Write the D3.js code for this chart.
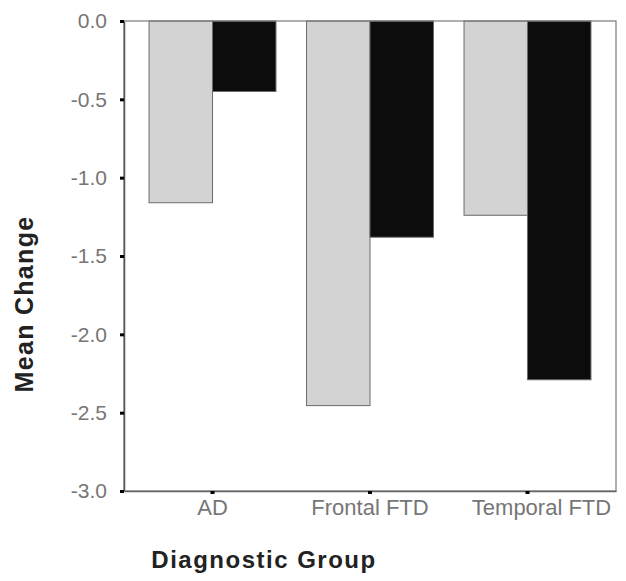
<!DOCTYPE html>
<html>
<head>
<meta charset="utf-8">
<script src="https://cdn.jsdelivr.net/npm/d3@7"></script>
<style>
  body { margin: 0; background: #fff; }
  svg { display: block; font-family: "Liberation Sans", Arial, sans-serif; }
</style>
</head>
<body>
<div id="chart"></div>
<script>
// values
const groups = ["AD", "Frontal FTD", "Temporal FTD"];
const series = ["light", "dark"];
const lightValues = [-1.16, -2.455, -1.24];
const darkValues = [-0.45, -1.38, -2.29];
const yTicks = [0, -0.5, -1, -1.5, -2, -2.5, -3];

const width = 626,
  height = 581,
  margin = ({ top: 21, right: 10, bottom: 90, left: 124 });

const plotRight = 616;
const plotBottom = 491;

const svg = d3.select("#chart")
  .append("svg")
  .attr("width", width)
  .attr("height", height);

const y = d3.scaleLinear()
  .domain([0, -3])
  .range([margin.top, plotBottom]);

const x = d3.scaleBand()
  .domain(groups)
  .range([margin.left, plotRight])
  .paddingInner(0.194)
  .paddingOuter(0.159);

const xs = d3.scaleBand()
  .domain(series)
  .range([0, x.bandwidth()]);

const colors = { light: "#d3d3d3", dark: "#0c0c0c" };

const rows = groups.map((g, i) => ({ group: g, light: lightValues[i], dark: darkValues[i] }));

// bars
const bars = svg.append("g");
rows.forEach(r => {
  series.forEach(s => {
    bars.append("rect")
      .attr("x", x(r.group) + xs(s))
      .attr("y", y(0))
      .attr("width", xs.bandwidth())
      .attr("height", y(r[s]) - y(0))
      .attr("fill", colors[s])
      .attr("stroke", "#6a6a6a")
      .attr("stroke-width", 1);
  });
});

// frame
svg.append("rect")
  .attr("x", margin.left)
  .attr("y", margin.top)
  .attr("width", plotRight - margin.left)
  .attr("height", plotBottom - margin.top)
  .attr("fill", "none")
  .attr("stroke", "#7a7a7a")
  .attr("stroke-width", 1.2);

// y axis
const yAxis = svg.append("g")
  .attr("transform", `translate(${margin.left},0)`)
  .call(d3.axisLeft(y).tickValues(yTicks).tickSize(0).tickPadding(17));

yAxis.select(".domain").attr("stroke", "#555").attr("stroke-width", 1.5);
yAxis.selectAll("text")
  .attr("font-size", 21)
  .attr("fill", "#767676")
  .attr("font-family", "Liberation Sans, Arial, sans-serif")
  .text(d => d3.format(".1f")(d).replace("−", "-").replace("-0.0", "0.0"));

yAxis.selectAll(".tick").append("rect")
  .attr("x", -4)
  .attr("y", -1.5)
  .attr("width", 4)
  .attr("height", 3)
  .attr("fill", "#000");

// x axis
const xAxis = svg.append("g")
  .attr("transform", `translate(0,${plotBottom})`)
  .call(d3.axisBottom(x).tickSize(0).tickPadding(8));

xAxis.select(".domain").attr("stroke", "#666").attr("stroke-width", 1.5);
xAxis.selectAll("text")
  .attr("font-size", 22)
  .attr("fill", "#767676")
  .attr("font-family", "Liberation Sans, Arial, sans-serif")
  // last label sits a little right of its tick in the original
  .attr("dx", (d, i) => i === groups.length - 1 ? 14 : 0);

xAxis.selectAll(".tick").append("rect")
  .attr("x", -2)
  .attr("y", 0)
  .attr("width", 4)
  .attr("height", 3)
  .attr("fill", "#000");

// axis titles
svg.append("text")
  .attr("transform", `translate(33,304) rotate(-90)`)
  .attr("text-anchor", "middle")
  .attr("font-size", 25)
  .attr("font-weight", "bold")
  .attr("letter-spacing", 1.3)
  .attr("fill", "#222")
  .text("Mean Change");

svg.append("text")
  .attr("x", 264)
  .attr("y", 568)
  .attr("text-anchor", "middle")
  .attr("font-size", 24)
  .attr("font-weight", "bold")
  .attr("letter-spacing", 1.5)
  .attr("fill", "#222")
  .text("Diagnostic Group");
</script>
</body>
</html>
